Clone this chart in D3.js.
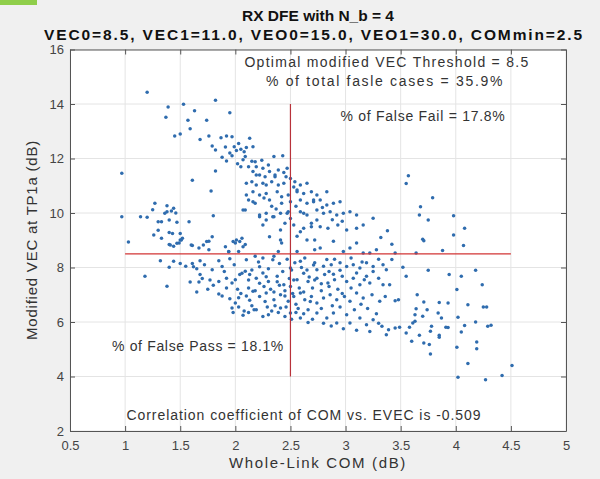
<!DOCTYPE html>
<html><head><meta charset="utf-8">
<script src="https://cdn.jsdelivr.net/npm/d3@7"></script>
<style>html,body{margin:0;padding:0;background:#f0f0f0;} svg{display:block;}</style>
</head><body>
<svg id="chart" width="600" height="479"></svg>
<script>
// ---------- data ----------
const xTicks = [0.5, 1, 1.5, 2, 2.5, 3, 3.5, 4, 4.5, 5];
const yTicks = [2, 4, 6, 8, 10, 12, 14, 16];
const xDomain = [0.5, 5];
const yDomain = [2, 16];
const vecThreshold = 8.5;          // horizontal red line
const hLineCom = [1, 4.5];         // its COM extent
const comThreshold = 2.5;          // vertical red line
const vLineVec = [4, 14];          // its VEC extent

const titleLines = ["RX DFE with N_b = 4", "VEC0=8.5, VEC1=11.0, VEO0=15.0, VEO1=30.0, COMmin=2.5"];
const xLabel = "Whole-Link COM (dB)";
const yLabel = "Modified VEC at TP1a (dB)";
const annotations = [
  "Optimal modified VEC Threshold = 8.5",
  "% of total fasle cases = 35.9%",
  "% of False Fail = 17.8%",
  "% of False Pass = 18.1%",
  "Correlation coefficient of COM vs. EVEC is -0.509"
];

// [COM (dB), modified VEC (dB)]
const upperBand = [
[1.20,14.43],[1.39,13.89],[1.53,13.99],[1.63,13.75],[1.82,14.14],[1.95,13.68],[1.37,13.51],[1.57,13.40],[1.74,13.40],[1.59,13.09],
[1.45,12.83],[1.50,12.90],[1.68,12.70],[1.76,12.83],[1.87,12.76],[1.92,12.83],[1.97,12.80],[1.79,12.46],[1.82,12.31],[1.91,12.42],
[1.99,12.43],[2.01,12.29],[2.05,12.34],[1.97,12.10],[1.92,11.91],[2.02,11.81],[2.09,12.07],[2.12,11.70],[2.05,11.70],[2.13,12.74],
[0.97,11.46],[1.82,11.54],[1.61,11.20],[1.78,10.81],[2.10,11.09],[2.10,10.66],[2.09,10.11],[2.12,10.48],[2.03,12.55],[2.07,11.95],
[1.95,12.20],[2.10,12.40],[1.88,12.05],[2.15,11.90],[2.08,12.25]
];
const diagonalBand = [
[2.16,12.43],[2.35,12.07],[2.43,12.10],[2.18,11.88],[2.24,11.94],[2.19,11.70],[2.25,11.64],[2.30,11.76],[2.16,11.52],[2.22,11.39],
[2.27,11.33],[2.31,11.52],[2.36,11.39],[2.39,11.58],[2.44,11.49],[2.47,11.64],[2.46,11.33],[2.50,11.27],[2.15,11.15],[2.19,11.03],
[2.25,11.09],[2.33,11.15],[2.39,11.03],[2.44,11.09],[2.54,11.15],[2.59,11.03],[2.65,11.09],[2.16,10.78],[2.22,10.66],[2.28,10.72],
[2.38,10.78],[2.42,10.60],[2.48,10.66],[2.56,10.78],[2.62,10.72],[2.69,10.78],[2.74,10.66],[2.83,10.78],[2.16,10.41],[2.31,10.48],
[2.42,10.36],[2.50,10.41],[2.59,10.48],[2.65,10.36],[2.71,10.41],[2.77,10.48],[2.83,10.29],[2.89,10.36],[2.95,10.41],[2.22,9.93],
[2.28,9.99],[2.35,9.86],[2.47,9.99],[2.59,10.05],[2.65,9.93],[2.74,10.11],[2.80,9.99],[2.86,10.05],[2.92,9.93],[2.98,9.99],
[3.04,10.05],[3.10,9.93],[2.25,9.56],[2.41,9.38],[2.53,9.56],[2.62,9.44],[2.69,9.62],[2.77,9.50],[2.84,9.44],[2.93,9.56],
[3.01,9.38],[3.10,9.44],[3.16,9.56],[3.25,9.81],[2.19,11.39],[2.28,11.03],[2.36,11.33],[2.18,10.36],[2.07,10.11],[2.22,9.86],
[2.28,9.74],[2.34,9.86],[2.41,9.99],[2.45,9.62],[2.31,9.13],[2.41,9.01],[2.48,10.05],[2.56,10.84],[2.71,10.48],[2.62,9.99],
[2.69,9.50],[2.74,9.74],[2.59,9.31],[2.65,9.01],[2.72,9.01],[3.32,9.10],[3.42,8.85],[3.38,9.35],[2.53,10.95],[2.33,10.25],
[2.26,10.55],[2.37,10.15],[2.55,10.25],[2.79,10.20],[2.88,9.75],[2.97,9.70],[2.50,9.80],[2.56,9.15]
];
const leftCluster = [
[1.27,10.36],[1.38,10.27],[1.44,10.17],[1.42,10.07],[1.46,10.00],[1.25,10.12],[1.36,9.99],[0.97,9.86],[1.14,9.86],[1.20,9.84],
[1.30,9.68],[1.33,9.68],[1.40,9.74],[1.47,9.66],[1.58,9.68],[1.80,9.90],[1.30,9.37],[1.40,9.28],[1.43,9.25],[1.50,9.25],
[1.26,9.19],[1.33,9.07],[1.52,9.07],[1.79,9.13],[2.06,9.07],[1.38,10.05],[1.51,9.01],[1.98,8.95],[2.01,9.01],[2.07,8.76],
[2.04,8.95],[1.74,8.95],[1.71,8.83],[1.50,9.01],[1.03,8.94],[1.40,8.84],[1.49,8.90],[1.44,8.78],[1.61,8.81],[1.67,8.72],
[1.76,8.96],[1.76,8.65],[1.94,8.59],[2.00,8.90],[2.03,8.59],[2.09,8.84],[1.47,8.89],[1.41,8.83],[1.60,8.83],[1.91,8.76]
];
const lowerLeft = [
[1.32,8.25],[1.44,8.23],[1.40,8.01],[1.61,8.15],[1.68,8.25],[1.85,8.25],[1.95,8.32],[1.79,7.92],[1.88,8.04],[1.18,7.68],
[1.38,7.31],[1.59,7.47],[1.67,7.47],[1.68,7.74],[1.85,7.49],[1.92,7.61],[1.97,7.43],[2.04,7.74],[2.09,7.86],[2.12,7.25],
[2.03,6.89],[2.00,6.70],[1.97,6.51],[1.85,7.03],[1.92,7.25],[1.77,7.54],[2.06,7.79],[2.12,7.54],[1.62,8.03],[2.10,8.28],
[2.15,7.91],[1.94,8.58],[2.05,7.05],[2.10,6.95],[2.15,6.60],[2.08,6.40],[2.18,7.15],[2.02,7.20],[2.13,6.80],[1.95,6.85],
[2.17,6.45],[2.07,6.25],[1.55,8.05],[1.65,7.95],[1.72,8.10],[1.50,8.15],[1.75,7.20],[1.80,7.35],[1.65,7.10],[1.88,6.95],
[1.70,7.60],[1.98,6.35],[2.03,6.55],[2.12,6.35],[1.90,7.85],[1.99,8.10],[2.00,7.55]
];
const centralBand = [
[2.42,8.90],[2.39,8.59],[2.56,8.59],[2.72,8.65],[2.77,8.72],[2.89,8.96],[2.98,8.59],[3.04,8.72],[3.10,8.90],[3.16,8.53],
[3.22,8.53],[3.28,8.65],[2.18,8.41],[2.25,8.35],[2.35,8.41],[2.50,7.98],[2.54,8.17],[2.59,8.23],[2.72,8.17],[2.74,7.92],
[2.83,8.29],[2.87,8.10],[2.95,8.17],[3.01,8.04],[3.07,8.10],[3.13,7.98],[3.19,8.17],[3.25,8.04],[3.34,8.10],[3.37,7.92],
[2.22,8.03],[2.34,8.28],[2.51,7.91],[2.65,7.91],[2.71,8.09],[2.13,7.74],[2.19,7.61],[2.25,7.80],[2.30,7.49],[2.38,7.68],
[2.44,7.37],[2.56,7.55],[2.66,7.49],[2.74,7.61],[2.81,7.74],[2.84,7.43],[2.90,7.55],[2.97,7.68],[3.01,7.49],[3.07,7.61],
[3.13,7.37],[3.19,7.68],[3.22,7.43],[3.30,7.61],[3.34,7.37],[2.22,7.42],[2.28,7.66],[2.38,7.48],[2.53,7.54],[2.62,7.79],
[2.72,7.54],[2.16,7.13],[2.22,6.94],[2.28,7.06],[2.35,6.82],[2.41,7.00],[2.48,6.76],[2.53,6.94],[2.59,7.06],[2.63,6.82],
[2.69,6.94],[2.74,6.70],[2.80,6.88],[2.86,7.00],[2.92,6.82],[2.99,6.94],[3.04,6.76],[3.10,7.06],[3.16,6.88],[3.24,7.00],
[3.31,6.76],[3.36,6.94],[2.19,6.45],[2.30,6.27],[2.41,6.51],[2.50,6.33],[2.59,6.15],[2.66,6.45],[2.74,6.33],[2.83,6.15],
[2.89,6.33],[2.92,5.96],[3.01,6.27],[3.04,5.96],[3.13,6.15],[3.19,5.90],[3.25,6.08],[3.33,5.84],[3.37,5.53],[2.32,7.20],
[2.45,7.15],[2.50,7.30],[2.36,6.60],[2.46,6.55],[2.55,6.65],[2.27,6.75],[2.40,7.35],[2.58,7.25],[2.62,7.10],[2.70,7.25],
[2.78,7.15],[2.85,7.30],[2.93,7.20],[2.97,7.05],[3.05,7.25],[2.45,6.95],[2.52,7.05],[2.33,6.40],[2.55,6.35],[2.25,6.20],
[2.45,6.20],[2.62,6.30],[2.70,6.10],[2.78,6.50],[2.95,6.55],[3.08,6.45],[3.20,6.50],[3.28,6.30],[2.87,5.85],[2.98,5.75],
[3.10,5.70],[3.22,5.65],[3.30,5.95],[2.80,5.95],[2.40,8.15],[2.47,8.30],[2.63,8.35],[2.80,8.05],[2.90,8.30],[3.05,8.35],
[3.15,8.20],[3.30,8.30],[2.85,7.85],[2.95,7.90],[3.10,7.80],[3.25,7.85],[2.30,7.95],[2.60,8.00],[2.26,7.30],[2.35,7.10],
[2.49,7.60],[2.43,7.85],[2.67,7.65],[2.78,7.40],[2.89,7.75],[3.17,7.55],[2.29,6.55],[2.39,6.35],[2.57,6.50],[2.68,6.75],
[2.88,6.60],[3.14,6.65],[2.51,6.10],[2.66,5.98],[2.21,8.20]
];
const rightTail = [
[3.57,11.37],[3.55,11.08],[3.79,10.56],[3.68,10.23],[3.67,9.93],[3.75,9.74],[3.98,9.90],[4.08,9.44],[3.98,9.19],[3.70,9.04],
[3.71,8.98],[4.07,8.81],[3.45,8.53],[3.64,8.53],[3.88,8.62],[3.42,8.29],[3.52,8.01],[3.55,7.68],[3.75,7.90],[3.94,7.74],
[4.05,7.68],[4.18,7.90],[3.40,7.37],[4.24,7.37],[4.01,7.19],[3.45,6.78],[3.48,6.82],[3.65,7.00],[3.71,6.73],[3.74,6.45],
[3.85,6.72],[3.93,6.70],[4.11,6.63],[4.25,6.55],[4.28,6.55],[3.64,6.49],[3.63,6.27],[3.70,6.21],[3.84,6.33],[3.87,6.15],
[4.02,6.17],[4.18,6.00],[3.39,5.72],[3.45,5.78],[3.49,5.81],[3.58,5.81],[3.61,5.96],[3.63,6.03],[3.78,5.84],[3.91,5.81],
[3.93,5.80],[4.08,5.87],[4.29,5.84],[4.32,5.88],[3.55,5.60],[3.60,5.29],[3.67,5.51],[3.71,5.23],[3.77,5.66],[3.76,5.17],
[3.85,5.51],[3.85,5.44],[4.05,5.63],[4.19,5.27],[4.01,5.07],[4.19,5.02],[3.77,4.83],[4.11,4.48],[4.51,4.40],[4.42,4.04],
[4.27,3.88],[4.02,3.97]
];
const points = [].concat(upperBand, diagonalBand, leftCluster, lowerLeft, centralBand, rightTail);

// ---------- layout ----------
const W = 600, H = 479;
const plot = {left: 70, right: 566, top: 49.5, bottom: 431};
const x = d3.scaleLinear().domain(xDomain).range([plot.left, plot.right]);
const y = d3.scaleLinear().domain(yDomain).range([plot.bottom, plot.top]);
const FONT = "'Liberation Sans', Arial, Helvetica, sans-serif";

const svg = d3.select('#chart');
svg.append('rect').attr('width', W).attr('height', H).attr('fill', '#f0f0f0');
svg.append('rect').attr('x', 0).attr('y', 0).attr('width', 37).attr('height', 5).attr('fill', '#8fce4a');
svg.append('rect').attr('x', plot.left).attr('y', plot.top)
  .attr('width', plot.right - plot.left).attr('height', plot.bottom - plot.top).attr('fill', '#fff');

// grid
const grid = svg.append('g');
grid.selectAll('.gx').data(xTicks).join('line')
  .attr('x1', d => x(d)).attr('x2', d => x(d)).attr('y1', plot.top).attr('y2', plot.bottom)
  .attr('stroke', '#e4e4e4').attr('stroke-width', 1);
grid.selectAll('.gy').data(yTicks).join('line')
  .attr('y1', d => y(d)).attr('y2', d => y(d)).attr('x1', plot.left).attr('x2', plot.right)
  .attr('stroke', '#e4e4e4').attr('stroke-width', 1);

// points
svg.append('g').selectAll('circle').data(points).join('circle')
  .attr('cx', d => x(d[0])).attr('cy', d => y(d[1])).attr('r', 1.75)
  .attr('fill', '#2f6cae');

// threshold lines
svg.append('line').attr('x1', x(hLineCom[0])).attr('x2', x(hLineCom[1]))
  .attr('y1', y(vecThreshold)).attr('y2', y(vecThreshold))
  .attr('stroke', '#d23434').attr('stroke-width', 1.2);
svg.append('line').attr('x1', x(comThreshold)).attr('x2', x(comThreshold))
  .attr('y1', y(vLineVec[0])).attr('y2', y(vLineVec[1]))
  .attr('stroke', '#b8323a').attr('stroke-width', 1.2);

// axes
const axisColor = '#555';
function styleAxis(g, showLabels) {
  g.select('.domain').attr('stroke', axisColor).attr('stroke-width', 1);
  g.selectAll('.tick line').attr('stroke', axisColor);
  g.selectAll('.tick text').attr('fill', '#444').attr('font-family', FONT).attr('font-size', 13);
  if (!showLabels) g.selectAll('.tick text').remove();
}
svg.append('g').attr('transform', `translate(0,${plot.bottom})`)
  .call(d3.axisBottom(x).tickValues(xTicks).tickFormat(d => d).tickSizeInner(-5).tickSizeOuter(0).tickPadding(10))
  .call(g => styleAxis(g, true));
svg.append('g').attr('transform', `translate(0,${plot.top})`)
  .call(d3.axisTop(x).tickValues(xTicks).tickSizeInner(-5).tickSizeOuter(0))
  .call(g => styleAxis(g, false));
svg.append('g').attr('transform', `translate(${plot.left},0)`)
  .call(d3.axisLeft(y).tickValues(yTicks).tickFormat(d => d).tickSizeInner(-5).tickSizeOuter(0).tickPadding(6))
  .call(g => styleAxis(g, true));
svg.append('g').attr('transform', `translate(${plot.right},0)`)
  .call(d3.axisRight(y).tickValues(yTicks).tickSizeInner(-5).tickSizeOuter(0))
  .call(g => styleAxis(g, false));

// text helper: base font size, small letter-spacing to reach a measured width
function addText(str, cx, cy, width, size, opts = {}) {
  const t = svg.append('text').text(str)
    .attr('x', cx).attr('y', cy).attr('text-anchor', 'middle')
    .attr('font-family', FONT).attr('font-size', size)
    .attr('font-weight', opts.bold ? 'bold' : 'normal')
    .attr('fill', opts.color || '#333');
  if (opts.rotate) t.attr('transform', `rotate(-90,${cx},${cy})`);
  const w = t.node().getComputedTextLength();
  const ls = (width - w) / str.length;
  t.attr('letter-spacing', ls.toFixed(2));
  return t;
}
addText(titleLines[0], 318, 21, 152, 15.5, {bold: true, color: '#111'});
addText(titleLines[1], 314, 40, 540, 15.5, {bold: true, color: '#111'});
addText(annotations[0], 387, 67, 285, 14);
addText(annotations[1], 385, 86, 238, 14);
addText(annotations[2], 423, 121, 165, 14);
addText(annotations[3], 198, 351, 172, 14);
addText(annotations[4], 304, 420, 355, 14);
addText(xLabel, 318, 468, 178, 15, {color: '#333'});
addText(yLabel, 37, 240, 200, 15, {rotate: true, color: '#333'});
</script>
</body></html>
